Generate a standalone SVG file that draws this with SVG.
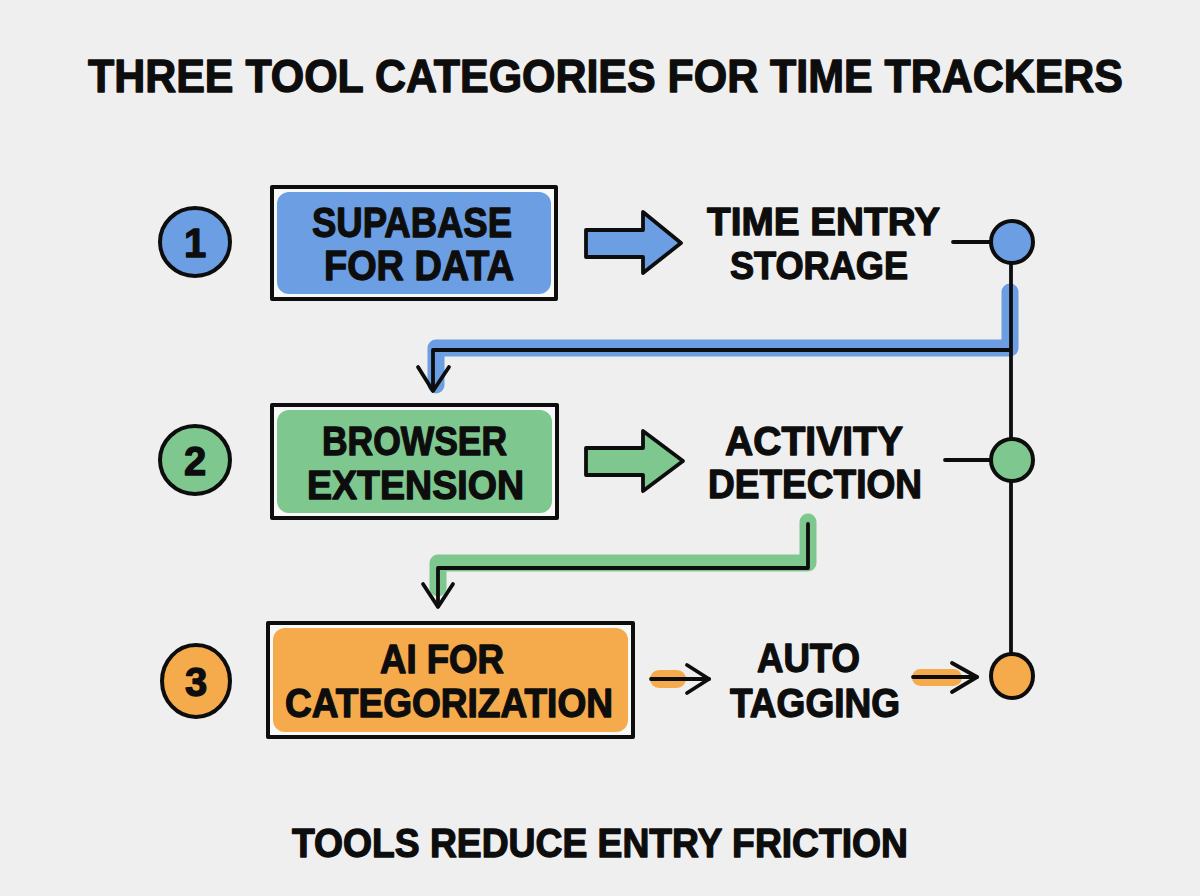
<svg xmlns="http://www.w3.org/2000/svg" width="1200" height="896" viewBox="0 0 1200 896">
<style>
  .t{font-family:"Liberation Sans",Arial,sans-serif;font-weight:bold;fill:#0d0d0d;stroke:#0d0d0d;stroke-width:1.3;stroke-linejoin:round;}
  .ln{fill:none;stroke:#0d0d0d;stroke-width:3.8;stroke-linecap:round;stroke-linejoin:round;}
  .box{fill:#f8f8f8;stroke:#0d0d0d;stroke-width:4;stroke-linejoin:round;}
  .num{stroke:#0d0d0d;stroke-width:4;}
  .blue{fill:#6b9ee2;} .green{fill:#7ec78e;} .orange{fill:#f5aa4c;}
</style>
<rect width="1200" height="896" fill="#efefef"/>
<text class="t" x="88" y="92" font-size="46" textLength="1035" lengthAdjust="spacingAndGlyphs">THREE TOOL CATEGORIES FOR TIME TRACKERS</text>

<g id="connectors">
  <path d="M1010,292 L1010,348 L436,348 L436,385" fill="none" stroke="#6b9ee2" stroke-width="17" stroke-linecap="round" stroke-linejoin="round"/>
  <path class="ln" d="M1010,350 L433,350 L433,390"/>
  <polyline class="ln" points="418,367 433,391 449,367"/>
  <path d="M808,522 L808,563 L438,563 L438,588" fill="none" stroke="#7ec78e" stroke-width="17" stroke-linecap="round" stroke-linejoin="round"/>
  <path class="ln" d="M808,524 L808,568 L438,568 L438,606"/>
  <polyline class="ln" points="423,584 438,607 453,584"/>
  <path class="ln" d="M1011,262 L1011,656"/>
  <path class="ln" d="M953,242 L990,242"/>
  <path class="ln" d="M945,460 L990,460"/>
  <polygon class="ln" points="586,230 643,230 643,212 681,243 643,273 643,257 586,257" style="fill:#6b9ee2"/>
  <polygon class="ln" points="586,448 643,448 643,431 683,461 643,491 643,475 586,475" style="fill:#7ec78e"/>
  <rect x="650" y="670" width="36" height="18" rx="9" fill="#f5aa4c"/>
  <path class="ln" d="M651,679 L709,679"/>
  <polyline class="ln" points="687,665 709,679 687,693"/>
  <rect x="912" y="669" width="50" height="17" rx="8.5" fill="#f5aa4c"/>
  <path class="ln" d="M913,677 L977,677"/>
  <polyline class="ln" points="952,663 977,677 952,692"/>
</g>

<g id="step1">
  <ellipse class="num blue" cx="195" cy="242" rx="35" ry="34"/>
  <text class="t" x="195" y="257" font-size="40" text-anchor="middle">1</text>
</g>
<g id="step2">
  <ellipse class="num green" cx="195" cy="460" rx="35" ry="34"/>
  <text class="t" x="195" y="475" font-size="40" text-anchor="middle">2</text>
</g>
<g id="step3">
  <ellipse class="num orange" cx="196" cy="681" rx="34" ry="36"/>
  <text class="t" x="196" y="696" font-size="40" text-anchor="middle">3</text>
</g>

<g id="supabase">
  <rect class="box" x="272" y="187" width="284" height="112"/>
  <rect class="blue" x="277" y="192" width="274" height="102" rx="12"/>
  <text class="t" x="312" y="237" font-size="42" textLength="200" lengthAdjust="spacingAndGlyphs">SUPABASE</text>
  <text class="t" x="324" y="280" font-size="42" textLength="190" lengthAdjust="spacingAndGlyphs">FOR DATA</text>
</g>
<g id="storage">
  <text class="t" x="707" y="235" font-size="39" textLength="233" lengthAdjust="spacingAndGlyphs">TIME ENTRY</text>
  <text class="t" x="730" y="279" font-size="39" textLength="178" lengthAdjust="spacingAndGlyphs">STORAGE</text>
</g>
<g id="browser">
  <rect class="box" x="272" y="405" width="285" height="113"/>
  <rect class="green" x="277" y="410" width="275" height="103" rx="12"/>
  <text class="t" x="322" y="455" font-size="40" textLength="185" lengthAdjust="spacingAndGlyphs">BROWSER</text>
  <text class="t" x="307" y="499" font-size="40" textLength="217" lengthAdjust="spacingAndGlyphs">EXTENSION</text>
</g>
<g id="activity">
  <text class="t" x="725" y="455" font-size="40" textLength="178" lengthAdjust="spacingAndGlyphs">ACTIVITY</text>
  <text class="t" x="708" y="498" font-size="40" textLength="214" lengthAdjust="spacingAndGlyphs">DETECTION</text>
</g>
<g id="ai">
  <rect class="box" x="268" y="623" width="365" height="114"/>
  <rect class="orange" x="273" y="628" width="355" height="104" rx="12"/>
  <text class="t" x="380" y="673" font-size="40" textLength="124" lengthAdjust="spacingAndGlyphs">AI FOR</text>
  <text class="t" x="285" y="717" font-size="40" textLength="328" lengthAdjust="spacingAndGlyphs">CATEGORIZATION</text>
</g>
<g id="tagging">
  <text class="t" x="757" y="672" font-size="40" textLength="103" lengthAdjust="spacingAndGlyphs">AUTO</text>
  <text class="t" x="730" y="717" font-size="40" textLength="170" lengthAdjust="spacingAndGlyphs">TAGGING</text>
</g>
<g id="dots">
  <circle class="num blue" cx="1012" cy="242" r="21"/>
  <circle class="num green" cx="1012" cy="460" r="21"/>
  <ellipse class="num orange" cx="1012" cy="676" rx="21" ry="22"/>
</g>
<text class="t" x="292" y="857" font-size="40" textLength="616" lengthAdjust="spacingAndGlyphs">TOOLS REDUCE ENTRY FRICTION</text>
</svg>
